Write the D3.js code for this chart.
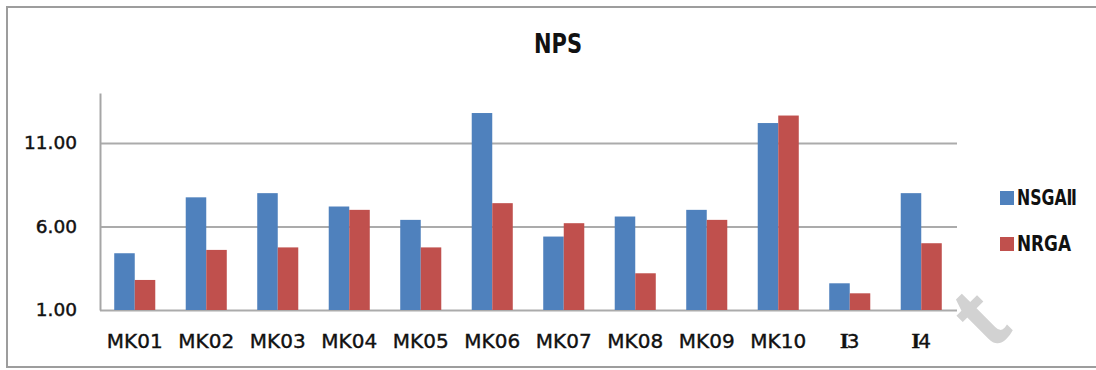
<!DOCTYPE html>
<html>
<head>
<meta charset="utf-8">
<script src="https://cdn.jsdelivr.net/npm/d3@7"></script>
<style>
  html, body { margin: 0; padding: 0; background: #ffffff; }
  svg { display: block; }
</style>
</head>
<body>
<svg id="chart" width="1096" height="370"></svg>
<script>
// NPS per benchmark instance, two algorithms
const categories = ["MK01", "MK02", "MK03", "MK04", "MK05", "MK06", "MK07", "MK08", "MK09", "MK10", "I3", "I4"];
const seriesNames = ["NSGAⅡ", "NRGA"];
const nsgaValues = [4.4, 7.75, 8.0, 7.2, 6.4, 12.8, 5.4, 6.6, 7.0, 12.2, 2.6, 8.0];
const nrgaValues = [2.8, 4.6, 4.75, 7.0, 4.75, 7.4, 6.2, 3.2, 6.4, 12.65, 2.0, 5.0];
const yTicks = [1, 6, 11];
const yDomain = [1, 14];
const chartTitle = "NPS";

const colors = ["#4f81bd", "#c0504d"];
const seriesValues = [nsgaValues, nrgaValues];
const legendWidths = [60, 54];

const svg = d3.select("#chart");

// outer frame
svg.append("rect")
  .attr("x", 7).attr("y", 7)
  .attr("width", 1100).attr("height", 360)
  .attr("fill", "#ffffff")
  .attr("stroke", "#9d9d9d")
  .attr("stroke-width", 2);

// faint diagonal watermark
svg.append("text")
  .attr("transform", "translate(1014,330) rotate(-45)")
  .attr("text-anchor", "end")
  .attr("font-family", "Liberation Sans, Arial, sans-serif")
  .attr("font-weight", "bold")
  .attr("font-size", 96)
  .attr("fill", "#d2d2d2")
  .text("t");

const plot = { left: 99, right: 957, top: 93, bottom: 310 };

const x0 = d3.scaleBand().domain(categories).range([plot.left, plot.right]).padding(0);
const x1 = d3.scaleBand().domain(seriesNames)
  .range([x0.bandwidth() * 0.213, x0.bandwidth() * 0.787]).padding(0);
const y = d3.scaleLinear().domain(yDomain).range([plot.bottom, plot.top]);

// horizontal gridlines (including the baseline)
const grid = svg.append("g")
  .attr("transform", `translate(${plot.left + 1},0)`)
  .call(d3.axisRight(y).tickValues(yTicks).tickSize(plot.right - plot.left - 1).tickFormat(""));
grid.select(".domain").remove();
grid.selectAll(".tick line").attr("stroke", "#ababab").attr("stroke-width", 2);

// bars
const groups = svg.append("g").selectAll("g")
  .data(categories)
  .join("g")
  .attr("transform", d => `translate(${x0(d)},0)`);

groups.selectAll("rect")
  .data((d, i) => seriesNames.map((s, j) => ({ s, v: seriesValues[j][i], j })))
  .join("rect")
  .attr("x", d => x1(d.s))
  .attr("width", x1.bandwidth())
  .attr("y", d => y(d.v))
  .attr("height", d => y(yDomain[0]) - y(d.v))
  .attr("fill", d => colors[d.j]);

// y axis
const yAxis = svg.append("g")
  .attr("transform", `translate(${plot.left + 1},0)`)
  .call(d3.axisLeft(y).tickValues(yTicks).tickFormat(d3.format(".2f")).tickSize(0).tickSizeOuter(0).tickPadding(23));
yAxis.select(".domain").attr("stroke", "#a6a6a6").attr("stroke-width", 2);
yAxis.selectAll("text")
  .attr("font-family", "DejaVu Sans, sans-serif")
  .attr("font-size", 18.5)
  .attr("fill", "#111")
  .attr("stroke", "#111")
  .attr("stroke-width", 0.45);

// x axis labels
const xAxis = svg.append("g")
  .attr("transform", `translate(0,${plot.bottom})`)
  .call(d3.axisBottom(x0).tickSize(0).tickPadding(24));
xAxis.select(".domain").remove();
xAxis.selectAll("text")
  .attr("font-family", "DejaVu Sans, sans-serif")
  .attr("font-size", 20)
  .attr("fill", "#111")
  .attr("stroke", "#111")
  .attr("stroke-width", 0.4)
  .each(function (d) {
    if (d.startsWith("I")) {
      const t = d3.select(this).text("");
      t.append("tspan").attr("font-family", "Liberation Serif, serif").attr("font-weight", "bold").attr("font-size", 22).text("I");
      t.append("tspan").attr("dx", -2).text(d.slice(1));
    }
  });

// title
svg.append("text")
  .attr("x", 534).attr("y", 53)
  .attr("font-family", "DejaVu Sans Condensed, DejaVu Sans, sans-serif")
  .attr("font-weight", "bold")
  .attr("font-size", 26)
  .attr("textLength", 48)
  .attr("lengthAdjust", "spacingAndGlyphs")
  .attr("fill", "#111")
  .text(chartTitle);

// legend
const legend = svg.append("g").selectAll("g")
  .data(seriesNames)
  .join("g")
  .attr("transform", (d, i) => `translate(1000,${191 + i * 46})`);
legend.append("rect")
  .attr("width", 14).attr("height", 14)
  .attr("fill", (d, i) => colors[i]);
legend.append("text")
  .attr("x", 17).attr("y", 14)
  .attr("font-family", "DejaVu Sans Condensed, DejaVu Sans, sans-serif")
  .attr("font-weight", "bold")
  .attr("font-size", 21)
  .attr("textLength", (d, i) => legendWidths[i])
  .attr("lengthAdjust", "spacingAndGlyphs")
  .attr("fill", "#111")
  .text(d => d);
</script>
</body>
</html>
